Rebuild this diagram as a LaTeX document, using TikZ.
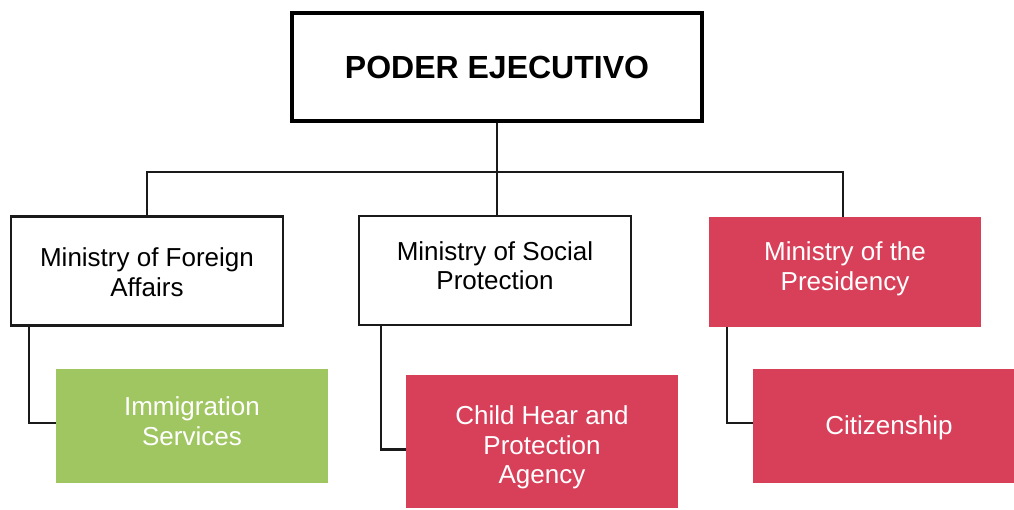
\documentclass[tikz,border=0pt]{standalone}
\usepackage{fontspec}
\setmainfont{Liberation Sans}
\definecolor{redbox}{HTML}{D8405A}
\definecolor{greenbox}{HTML}{A0C661}
\definecolor{linec}{HTML}{1A1A1A}
\begin{document}
\begin{tikzpicture}[x=1pt,y=-1pt,
  minbox/.style={draw=linec,line width=2.5pt,fill=white,minimum width=272pt,minimum height=109pt,inner sep=0pt},
  redfill/.style={fill=redbox,minimum width=272pt,minimum height=110pt,inner sep=0pt},
  greenfill/.style={fill=greenbox,minimum width=272pt,minimum height=114pt,inner sep=0pt},
  txt/.style={align=center,font=\fontsize{26}{29.5}\selectfont,inner sep=0pt},
  conn/.style={draw=linec,line width=2.4pt}]
\useasboundingbox (0,0) rectangle (1014,509);
\node[draw=black,line width=4.5pt,minimum width=410pt,minimum height=108pt,inner sep=0pt,
  font=\fontsize{32}{36}\selectfont\bfseries] (top) at (497,67) {PODER EJECUTIVO};
\node[minbox] (m1) at (147,271) {};
\node[minbox] (m2) at (495,270.5) {};
\node[redfill] (m3) at (845,272) {};
\node[greenfill] (c1) at (192,426) {};
\node[redfill,minimum height=133pt] (c2) at (542,441.5) {};
\node[redfill,minimum width=261pt,minimum height=114pt] (c3) at (883.5,426) {};
\node[txt,text=black] (t1) at ([yshift=-1pt]m1.center) {Ministry of Foreign\\Affairs};
\node[txt,text=black] (t2) at ([yshift=5pt]m2.center) {Ministry of Social\\Protection};
\node[txt,text=white] (t3) at ([yshift=3pt]m3.center) {Ministry of the\\Presidency};
\node[txt,text=white] (t4) at ([yshift=5pt]c1.center) {Immigration\\Services};
\node[txt,text=white] (t5) at ([yshift=-6pt]c2.center) {Child Hear and\\Protection\\Agency};
\node[txt,text=white] (t6) at ([xshift=5.5pt,yshift=-2pt]c3.center) {Citizenship};
\coordinate (bus) at (0,172);
\draw[conn] (top.south) -- (top.south |- m2.north);
\draw[conn] (m1.north) -- (m1.north |- bus) -- ([xshift=-2pt]m3.north |- bus) -- ([xshift=-2pt]m3.north);
\draw[conn] ([xshift=19pt]m1.south west) |- ([yshift=3pt]c1.west);
\draw[conn] ([xshift=23pt]m2.south west) |- ([yshift=-8pt]c2.west);
\draw[conn] ([xshift=18pt]m3.south west) |- ([yshift=3pt]c3.west);
\end{tikzpicture}
\end{document}
